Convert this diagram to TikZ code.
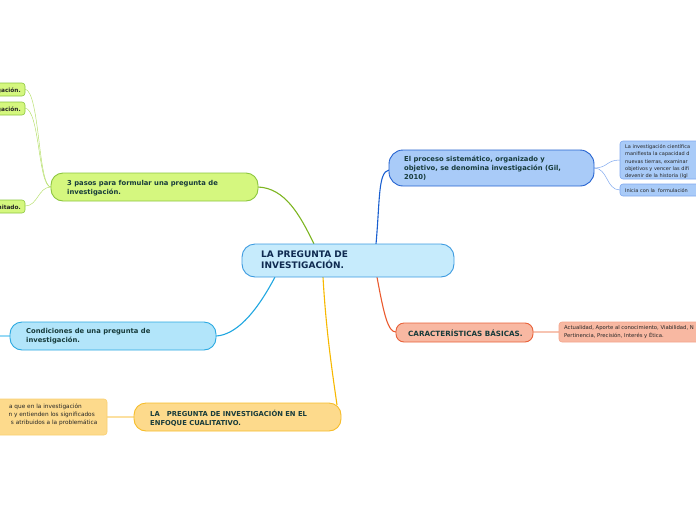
\documentclass[tikz,border=0pt]{standalone}
\usepackage{fontspec}
\setmainfont{DejaVu Sans}
\begin{document}
\begin{tikzpicture}[x=1pt,y=-1pt,
  mainbox/.style={draw, line width=0.9pt, rounded corners=13pt},
  leafbox/.style={draw, line width=0.6pt, rounded corners=3pt},
  mtext/.style={anchor=north west, inner sep=0pt, align=left, font=\fontsize{6.8}{9}\selectfont\bfseries, text=tdark},
  ltext/.style={inner sep=0pt, font=\fontsize{5.8}{8}\selectfont, text=black!85},
  conn/.style={line width=1.1pt},
  lconn/.style={line width=0.5pt}]
\definecolor{tdark}{HTML}{173B3B}\definecolor{tnavy}{HTML}{0F2A50}
\definecolor{cfill}{HTML}{C6EBFC}\definecolor{cbord}{HTML}{3D9BE0}
\definecolor{gfill}{HTML}{D5F77F}\definecolor{gbord}{HTML}{8CC63F}\definecolor{gconn}{HTML}{7DB521}\definecolor{glconn}{HTML}{B8E070}
\definecolor{bfill}{HTML}{A9CBF8}\definecolor{bbord}{HTML}{2563D0}\definecolor{bconn}{HTML}{1A5FD0}\definecolor{blconn}{HTML}{7FA8EE}
\definecolor{sfill}{HTML}{F8B8A2}\definecolor{sbord}{HTML}{E8623A}\definecolor{sconn}{HTML}{EA5A2E}\definecolor{slbord}{HTML}{F3A58C}\definecolor{slconn}{HTML}{F7C4B2}
\definecolor{yfill}{HTML}{B2E5FA}\definecolor{ybord}{HTML}{2BA9E1}\definecolor{yconn}{HTML}{1EA6E0}
\definecolor{ofill}{HTML}{FDDA8C}\definecolor{obord}{HTML}{F6BD2A}\definecolor{oconn}{HTML}{F7B800}\definecolor{olbord}{HTML}{F9CF70}\definecolor{olconn}{HTML}{FCE0A0}
\useasboundingbox (0,0) rectangle (696,520);
\clip (0,0) rectangle (696,520);

% connectors from center
\coordinate (cg) at (314,244);
\coordinate (cb) at (376,244);
\coordinate (cs) at (377,277);
\coordinate (cy) at (275,277);
\coordinate (co) at (323,277);
\coordinate (gR) at (258,187);
\coordinate (bL) at (389,170);
\coordinate (sL) at (396,332);
\coordinate (yR) at (216,336);
\coordinate (oR) at (337,405);
\draw[conn, gconn] (gR) .. controls (285,188) and (300,215) .. (cg);
\draw[conn, bconn] (cb) .. controls (380,200) and (378,172) .. (bL);
\draw[conn, sconn] (cs) .. controls (384,315) and (388,332) .. (sL);
\draw[conn, yconn] (cy) .. controls (255,315) and (235,335) .. (yR);
\draw[conn, oconn] (co) .. controls (326,330) and (332,370) .. (oR);

% leaf connectors
\coordinate (gL) at (51,187);
\coordinate (gl1) at (25,89);
\coordinate (gl2) at (25,108);
\coordinate (gl3) at (25,206);
\draw[lconn, glconn] (gL) .. controls (38,187) and (40,92) .. (gl1);
\draw[lconn, glconn] (gL) .. controls (38,187) and (40,110) .. (gl2);
\draw[lconn, glconn] (gL) .. controls (38,187) and (38,206) .. (gl3);
\coordinate (bR) at (594,168);
\coordinate (bl1) at (620,160);
\coordinate (bl2) at (620,190);
\draw[lconn, blconn] (bR) .. controls (608,168) and (606,160) .. (bl1);
\draw[lconn, blconn] (bR) .. controls (608,168) and (606,190) .. (bl2);
\coordinate (sR) at (533,332);
\coordinate (sl1) at (559,332);
\draw[line width=1.2pt, slconn] (sR) -- (sl1);
\coordinate (yL) at (10,336);
\coordinate (yl1) at (0,336);
\draw[line width=1.2pt, yfill!80!ybord] (yL) -- (yl1);
\coordinate (oL) at (134,417);
\coordinate (ol1) at (107,417);
\draw[line width=1.2pt, olconn] (oL) -- (ol1);

% central
\node[mainbox, fill=cfill, draw=cbord, minimum width=212pt, minimum height=33pt, inner sep=0pt] (center) at (348,260.5) {};
\node[anchor=north west, inner sep=0pt, align=left, font=\fontsize{9}{11}\selectfont\bfseries, text=tnavy] (ctext) at (261,251) {LA PREGUNTA DE\\INVESTIGACIÓN.};

% green
\node[mainbox, fill=gfill, draw=gbord, minimum width=207pt, minimum height=28pt, rounded corners=12pt, inner sep=0pt] (green) at (154.5,187) {};
\node[mtext] (gtext) at (67,180) {3 pasos para formular una pregunta de\\investigación.};
\node[leafbox, fill=gfill, draw=gbord, minimum width=40pt, minimum height=13pt, inner sep=0pt] (gleaf1) at (5,89.5) {};
\node[ltext, anchor=base east, font=\fontsize{5.8}{8}\selectfont\bfseries] (gt1) at (21,92) {gación.};
\node[leafbox, fill=gfill, draw=gbord, minimum width=40pt, minimum height=13pt, inner sep=0pt] (gleaf2) at (5,108.5) {};
\node[ltext, anchor=base east, font=\fontsize{5.8}{8}\selectfont\bfseries] (gt2) at (21,111) {gación.};
\node[leafbox, fill=gfill, draw=gbord, minimum width=40pt, minimum height=13pt, inner sep=0pt] (gleaf3) at (5,206.5) {};
\node[ltext, anchor=base east, font=\fontsize{5.8}{8}\selectfont\bfseries] (gt3) at (21,209) {nitado.};

% blue
\node[mainbox, fill=bfill, draw=bbord, minimum width=205pt, minimum height=36pt, rounded corners=14pt, inner sep=0pt] (blue) at (491.5,168) {};
\node[mtext] (btext) at (404,156) {El proceso sistemático, organizado y\\objetivo, se denomina investigación (Gil,\\2010)};
\node[leafbox, fill=bfill, draw=blconn, minimum width=100pt, minimum height=38pt, inner sep=0pt] (bleaf1) at (670,160) {};
\node[anchor=north west, inner sep=0pt, align=left, font=\fontsize{5}{7.2}\selectfont, text=black!85] (bt1) at (625,144.5) {La investigación científica\\manifiesta la capacidad d\\nuevas tierras, examinar\\objetivos y vencer las difi\\devenir de la historia (Igl};
\node[leafbox, fill=bfill, draw=blconn, minimum width=100pt, minimum height=12pt, inner sep=0pt] (bleaf2) at (670,190) {};
\node[ltext, anchor=base west, font=\fontsize{5}{7}\selectfont] (bt2) at (625,192) {Inicia con la\ \ formulación};

% salmon
\node[mainbox, fill=sfill, draw=sbord, minimum width=137pt, minimum height=19pt, rounded corners=8pt, inner sep=0pt] (salmon) at (464.5,332.5) {};
\node[anchor=west, inner sep=0pt, font=\fontsize{7.2}{8}\selectfont\bfseries, text=tdark] (stext) at (408,333) {CARACTERÍSTICAS BÁSICAS.};
\node[leafbox, fill=sfill, draw=slbord, minimum width=160pt, minimum height=20pt, inner sep=0pt] (sleaf) at (639,332) {};
\node[anchor=north west, inner sep=0pt, align=left, font=\fontsize{5.3}{8}\selectfont, text=black!85] (st1) at (564,325.5) {Actualidad, Aporte al conocimiento, Viabilidad, N\\Pertinencia, Precisión, Interés y Ética.};

% cyan
\node[mainbox, fill=yfill, draw=ybord, minimum width=206pt, minimum height=28pt, rounded corners=12pt, inner sep=0pt] (cyan) at (113,336) {};
\node[mtext] (ytext) at (26,328.5) {Condiciones de una pregunta de\\investigación.};

% orange
\node[mainbox, fill=ofill, draw=obord, minimum width=207pt, minimum height=28pt, rounded corners=12pt, inner sep=0pt] (orange) at (237.5,417) {};
\node[mtext] (otext) at (150,409.5) {LA\ \ \ PREGUNTA DE INVESTIGACIÓN EN EL\\ENFOQUE CUALITATIVO.};
\node[leafbox, fill=ofill, draw=olbord, minimum width=127pt, minimum height=36pt, inner sep=0pt] (oleaf) at (43.5,417) {};
\node[ltext, anchor=base east] (ot1) at (82,408) {a que en la investigación};
\node[ltext, anchor=base east] (ot2) at (95,416) {n y entienden los significados};
\node[ltext, anchor=base east] (ot3) at (97.5,424) {s atribuidos a la problemática};
\end{tikzpicture}
\end{document}
